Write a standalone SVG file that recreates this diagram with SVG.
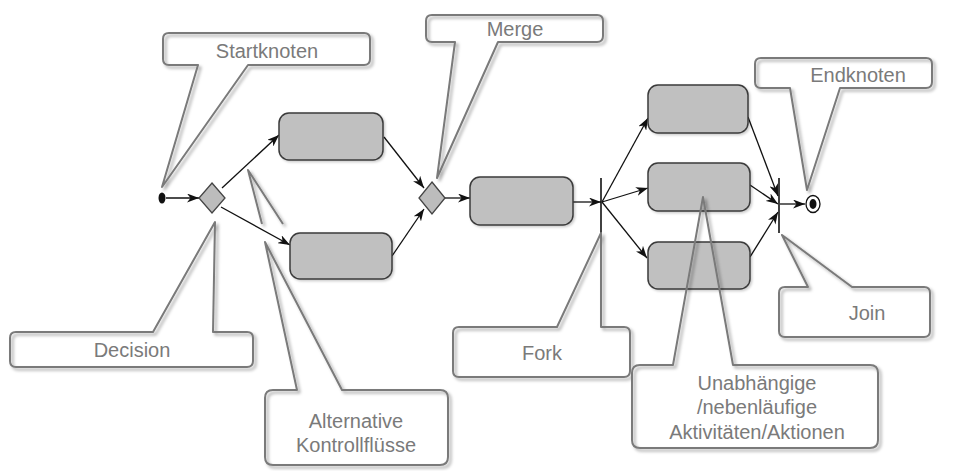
<svg xmlns="http://www.w3.org/2000/svg" width="954" height="471" viewBox="0 0 954 471">
<defs>
<style>
.act{fill:#c0c0c0;stroke:#3a3a3a;stroke-width:1.5}
.dia{fill:#bcbcbc;stroke:#444;stroke-width:1.3}
.e{stroke:#111;stroke-width:1.3;fill:none;marker-end:url(#ah)}
.bar{stroke:#111;stroke-width:1.6}
.cb{fill:#fff;stroke:none}
.co{fill:none;stroke:#7a7a7a;stroke-width:2;stroke-linejoin:round;filter:url(#sh)}
.t{font-family:"Liberation Sans",Arial,sans-serif;font-size:20px;fill:#7a7a7a;text-anchor:middle}
</style>
<filter id="sh" x="-10%" y="-10%" width="130%" height="130%">
<feDropShadow dx="2.5" dy="2.5" stdDeviation="1.5" flood-color="#000" flood-opacity="0.35"/>
</filter>
<filter id="bs" x="-10%" y="-10%" width="130%" height="130%">
<feDropShadow dx="1.5" dy="1.5" stdDeviation="1.2" flood-color="#000" flood-opacity="0.2"/>
</filter>
<marker id="ah" viewBox="0 0 12 9" refX="12" refY="4.5" markerWidth="12" markerHeight="9" markerUnits="userSpaceOnUse" orient="auto">
<path d="M0,0 L12,4.5 L0,9 L3.5,4.5 Z" fill="#111"/>
</marker>
</defs>
<rect width="954" height="471" fill="#fff"/>

<g id="connectors">
<line class="e" x1="166" y1="198" x2="199" y2="198"/>
<line class="e" x1="222" y1="188" x2="279" y2="135"/>
<line class="e" x1="221" y1="207" x2="290" y2="245"/>
<line class="e" x1="384" y1="137" x2="424" y2="188"/>
<line class="e" x1="392" y1="256" x2="424" y2="209"/>
<line class="e" x1="445" y1="198" x2="470" y2="198"/>
<line class="e" x1="573" y1="202" x2="601" y2="202"/>
<line class="e" x1="602" y1="202" x2="648" y2="118"/>
<line class="e" x1="602" y1="202" x2="648" y2="188"/>
<line class="e" x1="602" y1="202" x2="647" y2="258"/>
<line class="e" x1="748" y1="117" x2="778" y2="196"/>
<line class="e" x1="750" y1="185" x2="778" y2="204"/>
<line class="e" x1="750" y1="257" x2="778" y2="212"/>
<line class="e" x1="780" y1="204" x2="805" y2="204"/>
</g>

<g id="start"><ellipse cx="162" cy="198" rx="3.5" ry="5.5" fill="#111"/></g>
<g id="decision"><polygon class="dia" points="212,183 225,198 212,213 199,198"/></g>
<g id="action1"><rect class="act" filter="url(#bs)" x="279" y="113" width="104" height="47" rx="10"/></g>
<g id="action2"><rect class="act" filter="url(#bs)" x="290" y="233" width="102" height="46" rx="10"/></g>
<g id="merge"><polygon class="dia" points="432,182 445,198 432,214 419,198"/></g>
<g id="action3"><rect class="act" filter="url(#bs)" x="470" y="177" width="103" height="48" rx="10"/></g>
<g id="fork"><line class="bar" x1="601" y1="178" x2="601" y2="233"/></g>
<g id="action4"><rect class="act" filter="url(#bs)" x="648" y="85" width="100" height="48" rx="10"/></g>
<g id="action5"><rect class="act" filter="url(#bs)" x="648" y="163" width="102" height="48" rx="10"/></g>
<g id="action6"><rect class="act" filter="url(#bs)" x="648" y="242" width="102" height="47" rx="10"/></g>
<g id="join"><line class="bar" x1="779" y1="178" x2="779" y2="233"/></g>
<g id="end">
<ellipse cx="813" cy="204" rx="7" ry="8.5" fill="#fff" stroke="#111" stroke-width="1.3"/>
<ellipse cx="813" cy="204" rx="3.5" ry="5" fill="#111"/>
</g>

<g id="callout-startknoten">
<rect class="cb" x="163" y="33" width="207" height="32" rx="6"/>
<path class="co" d="M169,33 H364 Q370,33 370,39 V59 Q370,65 364,65 H248 L162,187 L198,65 H169 Q163,65 163,59 V39 Q163,33 169,33 Z"/>
<text class="t" x="267" y="58">Startknoten</text>
</g>
<g id="callout-merge">
<rect class="cb" x="426" y="15" width="177" height="27" rx="6"/>
<path class="co" d="M432,15 H597 Q603,15 603,21 V36 Q603,42 597,42 H498 L437,178 L455,42 H432 Q426,42 426,36 V21 Q426,15 432,15 Z"/>
<text class="t" x="515" y="36">Merge</text>
</g>
<g id="callout-endknoten">
<rect class="cb" x="755" y="58" width="177" height="30" rx="6"/>
<path class="co" d="M761,58 H926 Q932,58 932,64 V82 Q932,88 926,88 H840 L807,190 L790,88 H761 Q755,88 755,82 V64 Q755,58 761,58 Z"/>
<text class="t" x="858" y="82">Endknoten</text>
</g>
<g id="callout-decision">
<rect class="cb" x="10" y="332" width="243" height="35" rx="6"/>
<path class="co" d="M16,332 H153 L215,222 L213,332 H247 Q253,332 253,338 V361 Q253,367 247,367 H16 Q10,367 10,361 V338 Q10,332 16,332 Z"/>
<text class="t" x="132" y="357">Decision</text>
</g>
<g id="callout-fork">
<rect class="cb" x="453" y="327" width="177" height="50" rx="6"/>
<path class="co" d="M459,327 H557 L601,233 L601,327 H624 Q630,327 630,333 V371 Q630,377 624,377 H459 Q453,377 453,371 V333 Q453,327 459,327 Z"/>
<text class="t" x="542" y="360">Fork</text>
</g>
<g id="callout-join">
<rect class="cb" x="779" y="287" width="151" height="50" rx="6"/>
<path class="co" d="M785,287 H808 L782,235 L852,287 H924 Q930,287 930,293 V331 Q930,337 924,337 H785 Q779,337 779,331 V293 Q779,287 785,287 Z"/>
<text class="t" x="867" y="320">Join</text>
</g>
<g id="callout-unabhaengige">
<rect class="cb" x="632" y="365" width="246" height="83" rx="8"/>
<path class="co" d="M640,365 H673 L703,197 L733,365 H870 Q878,365 878,373 V440 Q878,448 870,448 H640 Q632,448 632,440 V373 Q632,365 640,365 Z"/>
<text class="t" x="757" y="390">Unabhängige</text>
<text class="t" x="757" y="414">/nebenläufige</text>
<text class="t" x="757" y="439">Aktivitäten/Aktionen</text>
</g>
<g id="callout-alternative">
<rect class="cb" x="265" y="390" width="183" height="75" rx="8"/>
<path class="co" d="M273,390 H297 L265,242 L342,390 H440 Q448,390 448,398 V457 Q448,465 440,465 H273 Q265,465 265,457 V398 Q265,390 273,390 Z"/>
<path class="co" d="M262,224 L248,170 L283,224"/>
<text class="t" x="356" y="428">Alternative</text>
<text class="t" x="356" y="452">Kontrollflüsse</text>
</g>
</svg>
